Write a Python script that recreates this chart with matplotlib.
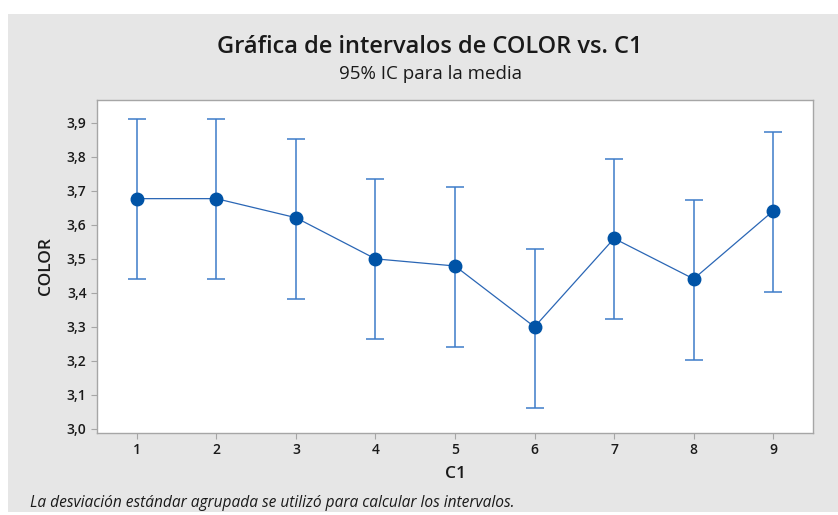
import matplotlib
matplotlib.use("Agg")
import matplotlib.pyplot as plt
from matplotlib.patches import Rectangle

# ---- data ----
categories = [1, 2, 3, 4, 5, 6, 7, 8, 9]
means = [3.677, 3.677, 3.621, 3.500, 3.479, 3.300, 3.560, 3.441, 3.641]
lower = [3.441, 3.441, 3.382, 3.265, 3.242, 3.062, 3.324, 3.202, 3.402]
upper = [3.911, 3.911, 3.852, 3.735, 3.712, 3.530, 3.794, 3.673, 3.872]
ytick_values = [3.0, 3.1, 3.2, 3.3, 3.4, 3.5, 3.6, 3.7, 3.8, 3.9]
ytick_labels = ["3,0", "3,1", "3,2", "3,3", "3,4", "3,5", "3,6", "3,7", "3,8", "3,9"]
title = "Gráfica de intervalos de COLOR vs. C1"
subtitle = "95% IC para la media"
xlabel = "C1"
ylabel = "COLOR"
footnote = "La desviación estándar agrupada se utilizó para calcular los intervalos."

FONT = ["Open Sans", "DejaVu Sans"]
plt.rcParams["font.family"] = FONT

W, H = 838, 515
fig = plt.figure(figsize=(W / 100, H / 100), dpi=100)
fig.patch.set_facecolor("white")
fig.add_artist(Rectangle((8 / W, 3 / H), 1 - 8 / W, (512 - 14) / H,
                         transform=fig.transFigure, facecolor="#E6E6E6",
                         edgecolor="none", zorder=0))

ax = fig.add_axes([97 / W, 1 - 433 / H, 716 / W, 333 / H])
ax.set_facecolor("white")

err_lo = [m - l for m, l in zip(means, lower)]
err_hi = [u - m for m, u in zip(means, upper)]
ax.errorbar(categories, means, yerr=[err_lo, err_hi], fmt="none",
            ecolor="#3D7CC9", elinewidth=1.1, capsize=6.5, capthick=1.1, zorder=2)
ax.plot(categories, means, color="#2A66B5", linewidth=0.9, zorder=3)
ax.plot(categories, means, linestyle="none", marker="o", markersize=9,
        color="#0053A6", zorder=4)

ax.set_xlim(0.5, 9.5)
ax.set_ylim(2.988, 3.967)
ax.set_xticks(categories)
ax.set_xticklabels([str(c) for c in categories])
ax.set_yticks(ytick_values)
ax.set_yticklabels(ytick_labels)

for s in ax.spines.values():
    s.set_color("#A6A6A6")
    s.set_linewidth(1.0)
ax.tick_params(axis="both", colors="#A6A6A6", length=4, width=0.8,
               labelcolor="#1A1A1A", labelsize=10)
for lab in ax.get_xticklabels() + ax.get_yticklabels():
    lab.set_fontweight("semibold")

ax.set_xlabel(xlabel, fontsize=12.5, fontweight="semibold", color="#1A1A1A", labelpad=6)
ax.set_ylabel(ylabel, fontsize=12.5, fontweight="semibold", color="#1A1A1A", labelpad=9)

fig.text(430 / W, 1 - 47 / H, title, ha="center", va="center",
         fontsize=17, fontweight="semibold", color="#1A1A1A")
fig.text(430 / W, 1 - 74 / H, subtitle, ha="center", va="center",
         fontsize=13.5, fontweight="medium", color="#1A1A1A")
fig.text(30 / W, 1 - 503 / H, footnote, ha="left", va="center",
         fontsize=11.2, style="italic", color="#1A1A1A")

fig.savefig("out.png", dpi=100)
